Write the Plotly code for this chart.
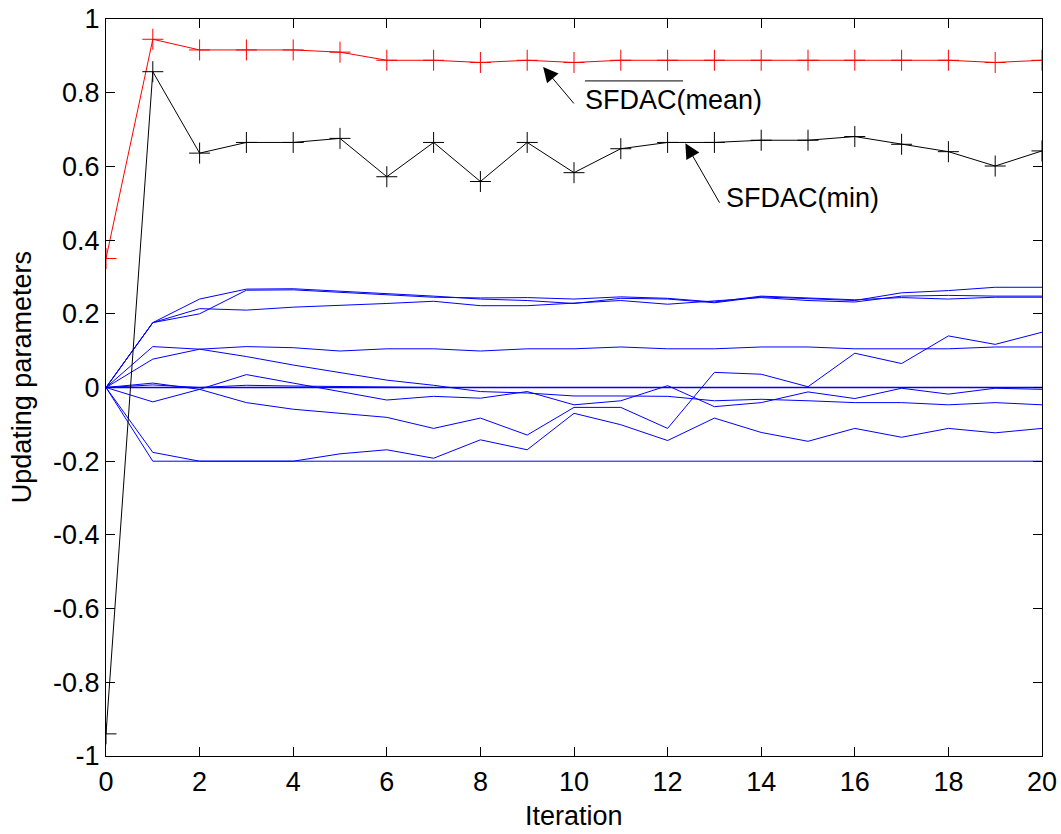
import plotly.graph_objects as go

iterations = list(range(21))

sfdac_mean = [0.35, 0.945, 0.916, 0.916, 0.916, 0.910, 0.888, 0.888, 0.882, 0.888, 0.882,
              0.888, 0.888, 0.888, 0.888, 0.888, 0.888, 0.888, 0.888, 0.882, 0.888]
sfdac_min = [-0.94, 0.857, 0.636, 0.665, 0.665, 0.676, 0.572, 0.665, 0.559, 0.665, 0.583,
             0.648, 0.665, 0.665, 0.671, 0.671, 0.681, 0.660, 0.640, 0.601, 0.642]

param_b1 = [0, 0.176, 0.240, 0.267, 0.268, 0.262, 0.254, 0.248, 0.240, 0.236, 0.228,
            0.242, 0.240, 0.230, 0.246, 0.240, 0.236, 0.257, 0.263, 0.272, 0.272]
param_b2 = [0, 0.176, 0.200, 0.264, 0.265, 0.258, 0.250, 0.245, 0.243, 0.244, 0.240,
            0.246, 0.242, 0.232, 0.248, 0.244, 0.238, 0.244, 0.240, 0.245, 0.245]
param_b3 = [0, 0.176, 0.214, 0.210, 0.218, 0.222, 0.228, 0.234, 0.222, 0.222, 0.228,
            0.236, 0.226, 0.236, 0.244, 0.236, 0.232, 0.248, 0.250, 0.248, 0.248]
param_b4 = [0, 0.111, 0.104, 0.111, 0.108, 0.099, 0.105, 0.105, 0.099, 0.105, 0.105,
            0.110, 0.105, 0.105, 0.110, 0.110, 0.105, 0.105, 0.105, 0.110, 0.110]
param_b5 = [0, 0.077, 0.104, 0.084, 0.061, 0.041, 0.020, 0.006, -0.011, -0.015, -0.023,
            -0.023, -0.024, -0.036, -0.032, -0.036, -0.041, -0.041, -0.047, -0.041, -0.047]
param_l1 = [0, 0.012, -0.005, -0.041, -0.059, -0.069, -0.081, -0.111, -0.083, -0.129, -0.054,
            -0.054, -0.111, 0.041, 0.036, 0.002, 0.093, 0.065, 0.140, 0.117, 0.150]
param_l2 = [0, -0.176, -0.200, -0.200, -0.200, -0.180, -0.169, -0.192, -0.142, -0.169, -0.070,
            -0.101, -0.144, -0.083, -0.122, -0.146, -0.111, -0.135, -0.111, -0.123, -0.111]
param_l3 = [0, -0.039, -0.005, 0.035, 0.012, -0.010, -0.034, -0.024, -0.029, -0.011, -0.047,
            -0.036, 0.005, -0.052, -0.041, -0.012, -0.030, -0.002, -0.018, -0.002, -0.005]
param_z1 = [0] * 21
param_z2 = [0, 0.007, 0.0, 0.006, 0.004, 0.002, 0.001, 0, 0, 0, 0,
            0, 0, 0, 0, 0, 0, 0, 0, 0, 0]
param_f = [0, -0.200, -0.200, -0.200, -0.200, -0.200, -0.200, -0.200, -0.200, -0.200, -0.200,
           -0.200, -0.200, -0.200, -0.200, -0.200, -0.200, -0.200, -0.200, -0.200, -0.200]

blue_params = [param_b1, param_b2, param_b3, param_b4, param_b5, param_l1, param_l2,
               param_l3, param_z2, param_f]

x_ticks = [0, 2, 4, 6, 8, 10, 12, 14, 16, 18, 20]
x_ticktext = ["0", "2", "4", "6", "8", "10", "12", "14", "16", "18", "20"]
y_ticks = [-1, -0.8, -0.6, -0.4, -0.2, 0, 0.2, 0.4, 0.6, 0.8, 1]
y_ticktext = ["-1", "-0.8", "-0.6", "-0.4", "-0.2", "0", "0.2", "0.4", "0.6", "0.8", "1"]

FONT = "Arial, 'Liberation Sans', sans-serif"
FS = 27

fig = go.Figure()
for p in blue_params:
    fig.add_trace(go.Scatter(x=iterations, y=p, mode="lines",
                             line=dict(color="#0000ff", width=1), showlegend=False))
# the flat zero parameter, drawn last among the blue lines and slightly wider
fig.add_trace(go.Scatter(x=iterations, y=param_z1, mode="lines",
                         line=dict(color="#0000ff", width=1.6), showlegend=False))

fig.add_trace(go.Scatter(x=iterations, y=sfdac_mean, mode="lines+markers",
                         line=dict(color="#ff0000", width=1),
                         marker=dict(symbol="cross-thin", size=15,
                                     line=dict(color="#ff0000", width=1)),
                         showlegend=False))
fig.add_trace(go.Scatter(x=iterations, y=sfdac_min, mode="lines+markers",
                         line=dict(color="#000000", width=1),
                         marker=dict(symbol="cross-thin", size=15,
                                     line=dict(color="#000000", width=1)),
                         showlegend=False))

# arrows
fig.add_annotation(x=9.34, y=0.870, xref="x", yref="y", text="", showarrow=True,
                   ax=32, ay=38, arrowhead=2, arrowsize=3, arrowwidth=1, arrowcolor="black")
fig.add_annotation(x=12.38, y=0.663, xref="x", yref="y", text="", showarrow=True,
                   ax=35, ay=61, arrowhead=2, arrowsize=3, arrowwidth=1, arrowcolor="black")

fig.add_annotation(x=10.19, y=0.780, xref="x", yref="y", text="SFDAC(mean)", showarrow=False,
                   xanchor="left", yanchor="middle", font=dict(family=FONT, size=FS, color="black"))
fig.add_annotation(x=13.2, y=0.514, xref="x", yref="y", text="SFDAC(min)", showarrow=False,
                   xanchor="left", yanchor="middle", font=dict(family=FONT, size=FS, color="black"))
# overline over SFDAC
fig.add_shape(type="line", x0=10.235, x1=12.33, y0=0.832, y1=0.832, xref="x", yref="y",
              line=dict(color="black", width=1))

# axis titles
fig.add_annotation(x=0.5, y=-0.0819, xref="paper", yref="paper", text="Iteration",
                   showarrow=False, xanchor="center", yanchor="middle",
                   font=dict(family=FONT, size=FS, color="black"))
fig.add_annotation(x=-0.0897, y=0.514, xref="paper", yref="paper", text="Updating parameters",
                   showarrow=False, xanchor="center", yanchor="middle", textangle=-90,
                   font=dict(family=FONT, size=FS, color="black"))

fig.update_xaxes(range=[0, 20], tickvals=x_ticks, ticktext=x_ticktext, automargin=False,
                 ticks="inside", ticklen=9, tickcolor="black", mirror="allticks",
                 showline=True, linecolor="black", linewidth=1, showgrid=False,
                 zeroline=False, ticklabelstandoff=2,
                 tickfont=dict(family=FONT, size=FS, color="black"))
fig.update_yaxes(range=[-1, 1], tickvals=y_ticks, ticktext=y_ticktext, automargin=False,
                 ticks="inside", ticklen=9, tickcolor="black", mirror="allticks",
                 showline=True, linecolor="black", linewidth=1, showgrid=False,
                 zeroline=False,
                 tickfont=dict(family=FONT, size=FS, color="black"))

fig.update_layout(width=1061, height=834, margin=dict(l=106, r=19, t=19, b=78),
                  plot_bgcolor="white", paper_bgcolor="white", showlegend=False,
                  hovermode=False)

fig.write_html("out.html", config={"displayModeBar": False, "staticPlot": True},
               post_script="document.body.style.margin='0';"
                           "document.documentElement.style.overflow='hidden';"
                           "document.body.style.overflow='hidden';")
